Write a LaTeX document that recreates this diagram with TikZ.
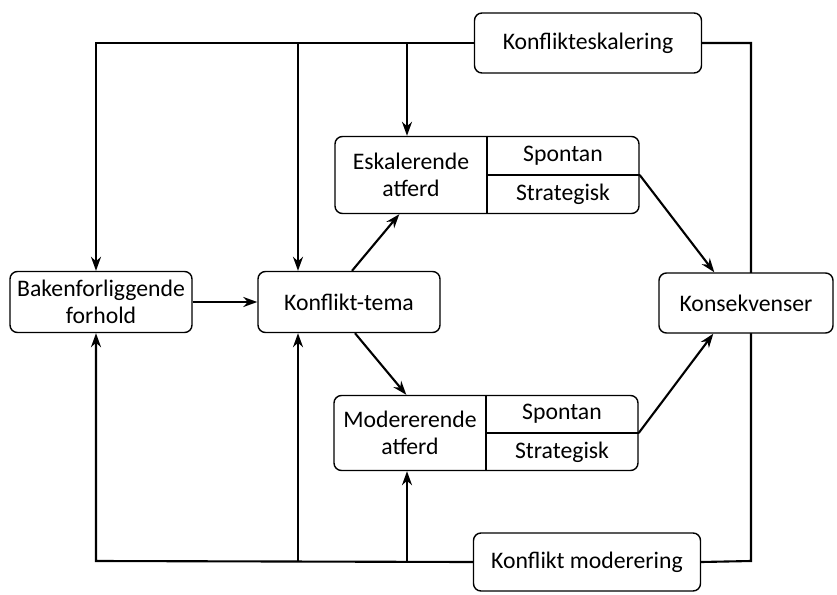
\documentclass[tikz,border=0pt]{standalone}
\usepackage{fontspec}
\setmainfont{Carlito}
\usetikzlibrary{arrows.meta}
\tikzset{
  box/.style={draw, thick, rounded corners=1.5mm, fill=white, align=center, inner sep=0pt},
  line/.style={very thick},
  link/.style={very thick, -{Stealth[length=2.8mm, width=2mm, inset=0.9mm]}},
}
\begin{document}
\begin{tikzpicture}[x=0.2mm, y=-0.2mm]
\fontsize{13.5}{15.5}\selectfont
\useasboundingbox (0,0) rectangle (837,594);
% boxes
\node[box, minimum width=45.4mm, minimum height=12mm] (konfesk) at (588,43) {Konflikteskalering};
\node[box, minimum width=45.4mm, minimum height=11.6mm] (konfmod) at (587,562) {Konflikt moderering};
\node[box, minimum width=36.4mm, minimum height=12.2mm] (bak) at (101,302) {Bakenforliggende\\forhold};
\node[box, minimum width=36.4mm, minimum height=12.2mm] (tema) at (349,302) {Konflikt-tema};
\node[box, minimum width=60.8mm, minimum height=15.4mm] (esk) at (487,175) {};
\node[box, minimum width=60.8mm, minimum height=15mm] (mod) at (486,433) {};
\draw[thick] (esk.north) -- (esk.south);
\draw[thick] (esk.center) -- (esk.east);
\draw[thick] (mod.north) -- (mod.south);
\draw[thick] (mod.center) -- (mod.east);
\node[align=center] (eskt) at (411,175) {Eskalerende\\atferd};
\node (esksp) at (563,156) {Spontan};
\node (eskst) at (563,194) {Strategisk};
\node[align=center] (modt) at (410,433) {Modererende\\atferd};
\node (modsp) at (562,414) {Spontan};
\node (modst) at (562,452) {Strategisk};
% frame
\coordinate (tl) at (96,43);
\coordinate (tm) at (298,43);
\coordinate (tr) at (407,43);
\coordinate (trr) at (751,43);
\coordinate (bl) at (96,561);
\coordinate (bm) at (298,561);
\coordinate (br) at (407,561);
\coordinate (brr) at (751,561);
\draw[line] (konfesk.east) -- (trr) -- (brr) -- (konfmod.east);
\node[box, minimum width=34.8mm, minimum height=12mm] (kons) at (746,303) {Konsekvenser};
% escalation from above
\draw[link] (konfesk.west) -- (tl) -- (tl |- bak.north);
\draw[link] (tm) -- (tm |- tema.north);
\draw[link] (tr) -- (tr |- esk.north);
% moderation from below
\draw[link] (konfmod.west) -- (bl) -- (bl |- bak.south);
\draw[link] (bm) -- (bm |- tema.south);
\draw[link] (br) -- (br |- mod.south);
% main flow
\draw[link] (bak) -- (tema);
\draw[link] ([xshift=0.6mm]tema.north) -- ([xshift=13mm]esk.south west);
\draw[link] ([xshift=1.2mm]tema.south) -- ([xshift=14.6mm]mod.north west);
\draw[link] (esk.east) -- ([xshift=11.2mm]kons.north west);
\draw[link] (mod.east) -- ([xshift=11mm]kons.south west);
\end{tikzpicture}
\end{document}
